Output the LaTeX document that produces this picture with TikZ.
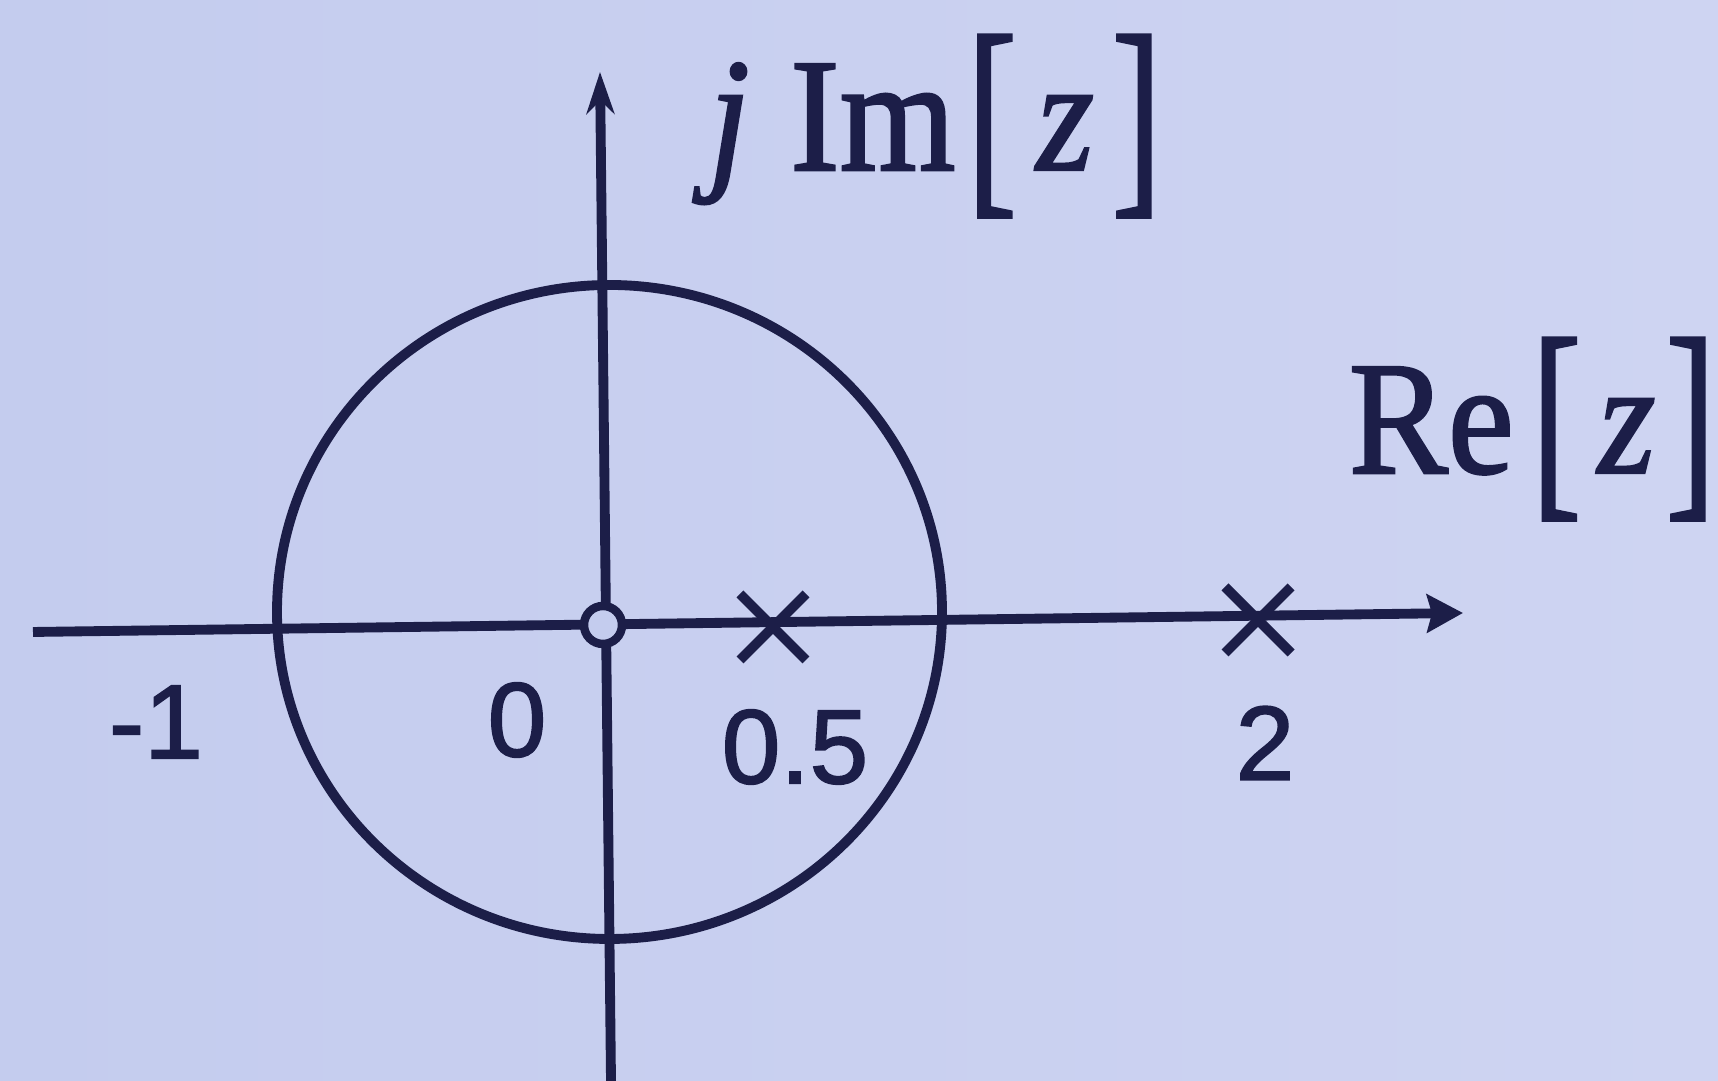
\documentclass[tikz,border=0pt]{standalone}
\usepackage{fontspec}
\setmainfont{Liberation Serif}[BoldFont=Liberation Serif, BoldItalicFont=Liberation Serif Italic, BoldFeatures={FakeBold=1.6}, BoldItalicFeatures={FakeBold=1.4}]
\newfontfamily\digitfont{Liberation Sans}[BoldFont=Liberation Sans, BoldFeatures={FakeBold=1.6}]
\usetikzlibrary{arrows.meta,shapes.misc}

\definecolor{paperblue}{RGB}{196,204,238}
\definecolor{paperlight}{RGB}{206,212,242}
\definecolor{ink}{RGB}{28,30,72}

\newcommand{\sqbr}[1]{\raisebox{-0.11em}{\scalebox{1}[1.36]{#1}}}
\newcommand{\narrow}[1]{\scalebox{0.92}[1]{#1}}

\begin{document}
\begin{tikzpicture}[
    axisline/.style={ink, line width=2.8pt},
    unitcircle/.style={ink, line width=2.8pt},
    pole/.style={cross out, draw=ink, line width=2.8pt, minimum size=0.66cm, inner sep=0pt, outer sep=0pt},
    zeromark/.style={circle, draw=ink, fill=paperblue, line width=2.4pt, minimum size=0.38cm, inner sep=0pt},
    ticklabel/.style={ink, font=\digitfont\bfseries\fontsize{30}{32}\selectfont, inner sep=0pt},
    axislabel/.style={ink, font=\bfseries\fontsize{46}{50}\selectfont, inner sep=0pt},
]

\def\W{17.18}  \def\H{10.81}

% Paper background
\shade[left color=paperblue, right color=paperlight] (0,0) rectangle (\W,\H);
\useasboundingbox (0,0) rectangle (\W,\H);

% Axis end points
\coordinate (xstart) at (0.33, 4.49);
\coordinate (xend)   at (14.63, 4.68);
\coordinate (ystart) at (6.11, 0.00);
\coordinate (yend)   at (6.00, 10.09);

% Unit circle
\draw[unitcircle] (6.095, 4.69) ellipse [x radius=3.325, y radius=3.27];

% Axes
\draw[axisline, -{Stealth[length=0.36cm, width=0.38cm, inset=0.05cm]}] (xstart) -- (xend);
\draw[axisline, -{Stealth[length=0.42cm, width=0.28cm]}] (ystart) -- (yend);

% Zero at the origin, poles at 0.5 and 2
\node[zeromark] (zero) at (6.03, 4.56) {};
\node[pole] (polehalf) at (7.73, 4.54) {};
\node[pole] (poletwo)  at (12.58, 4.61) {};

% Tick labels
\node[ticklabel] (lblminus) at (1.56, 3.59) {-1};
\node[ticklabel] (lblzero)  at (5.17, 3.61) {0};
\node[ticklabel] (lblhalf)  at (7.95, 3.34) {0.5};
\node[ticklabel] (lbltwo)   at (12.65, 3.38) {2};

% Axis labels
\node[axislabel, anchor=base west] (imlabel) at (7.08, 9.11)
    {\narrow{\textit{j}\hspace{0.27em}Im\hspace{0.08em}\sqbr{[}\hspace{0.13em}\textit{z}\hspace{0.12em}\sqbr{]}}};
\node[axislabel, anchor=base west] (relabel) at (13.48, 6.08)
    {\narrow{Re\hspace{0.12em}\sqbr{[}\hspace{0.11em}\textit{z}\hspace{0.07em}\sqbr{]}}};

\end{tikzpicture}
\end{document}
